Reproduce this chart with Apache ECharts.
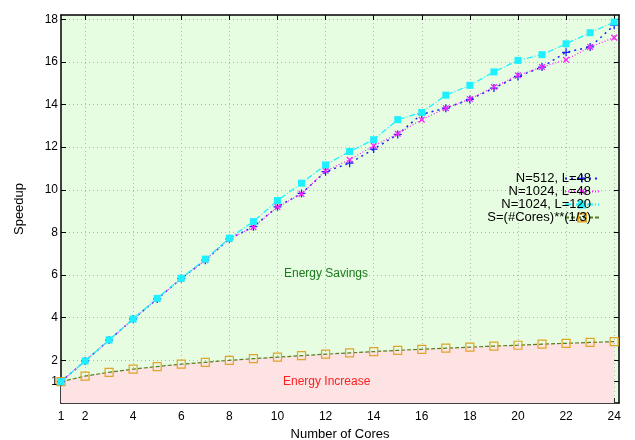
<!DOCTYPE html>
<html>
<head>
<meta charset="utf-8">
<script src="https://cdn.jsdelivr.net/npm/echarts@6/dist/echarts.min.js"></script>
<style>
  html, body { margin: 0; padding: 0; background: #fff; }
  #main { width: 635px; height: 440px; }
</style>
</head>
<body>
<div id="main"></div>
<script>
// number of cores (x)
var cores = [1, 2, 3, 4, 5, 6, 7, 8, 9, 10, 11, 12, 13, 14, 15, 16, 17, 18, 19, 20, 21, 22, 23, 24];

// speedup
var n512L48 = [1, 1.97, 2.95, 3.94, 4.88, 5.84, 6.7, 7.7, 8.27, 9.2, 9.83, 10.85, 11.25, 11.91, 12.6, 13.55, 13.83, 14.24, 14.77, 15.32, 15.76, 16.45, 16.7, 17.72];
var n1024L48 = [1, 1.97, 2.95, 3.93, 4.88, 5.83, 6.7, 7.7, 8.25, 9.19, 9.81, 10.89, 11.41, 12.07, 12.63, 13.29, 13.83, 14.26, 14.82, 15.37, 15.76, 16.1, 16.7, 17.14];
var n1024L120 = [1, 1.97, 2.96, 3.94, 4.91, 5.85, 6.75, 7.73, 8.51, 9.5, 10.31, 11.17, 11.8, 12.35, 13.29, 13.63, 14.44, 14.9, 15.53, 16.07, 16.34, 16.85, 17.37, 17.87];
var cubeRoot = [1, 1.26, 1.44, 1.59, 1.71, 1.82, 1.91, 2, 2.08, 2.15, 2.22, 2.29, 2.35, 2.41, 2.47, 2.52, 2.57, 2.62, 2.67, 2.71, 2.76, 2.8, 2.84, 2.88];

var seriesNames = ['N=512, L=48', 'N=1024, L=48', 'N=1024, L=120', 'S=(#Cores)**(1/3)'];

// tick labels
var xTicks = [2, 4, 6, 8, 10, 12, 14, 16, 18, 20, 22, 24];
var xLabels = [1, 2, 4, 6, 8, 10, 12, 14, 16, 18, 20, 22, 24];
var yTicks = [1, 2, 4, 6, 8, 10, 12, 14, 16, 18];

function pairs(vals) {
  return cores.map(function (c, i) { return [c, vals[i]]; });
}

var FONT = '"Liberation Sans", Arial, sans-serif';
var plusPath = 'path://M4.2,0h1.6v10h-1.6z M0,4.2h10v1.6h-10z';

var chart = echarts.init(document.getElementById('main'));

var gridLine = { show: true, lineStyle: { color: '#b4b4b4', width: 1, type: [1, 3] } };

var option = {
  animation: false,
  backgroundColor: '#ffffff',
  textStyle: { fontFamily: FONT },
  grid: {
    left: 61, right: 16, top: 15, bottom: 37,
    outerBoundsMode: 'none', containLabel: false,
    show: true, backgroundColor: '#e6fde1', borderWidth: 0
  },
  legend: {
    orient: 'vertical',
    align: 'right',
    right: 30,
    top: 167,
    itemGap: 0,
    itemWidth: 34,
    itemHeight: 10,
    textStyle: { fontSize: 13, lineHeight: 12, color: '#000', fontFamily: FONT, padding: [0, -31, 0, 0] },
    data: seriesNames
  },
  xAxis: [{
    type: 'value', min: 1, max: 24.2,
    name: 'Number of Cores', nameLocation: 'middle', nameGap: 22,
    nameTextStyle: { fontSize: 13, color: '#000' },
    axisLine: { show: true, onZero: false, lineStyle: { color: '#000', width: 1.5 } },
    axisTick: { show: true, inside: true, length: 5, customValues: xTicks, lineStyle: { color: '#000', width: 1 } },
    axisLabel: { customValues: xLabels, fontSize: 12, color: '#000', margin: 8 },
    splitLine: gridLine
  }, {
    type: 'value', min: 1, max: 24.2, position: 'top',
    axisLine: { show: true, onZero: false, lineStyle: { color: '#000', width: 1.5 } },
    axisTick: { show: true, inside: true, length: 5, customValues: xTicks, lineStyle: { color: '#000', width: 1 } },
    axisLabel: { show: false },
    splitLine: { show: false }
  }],
  yAxis: [{
    type: 'value', min: 0, max: 18.2,
    name: 'Speedup', nameLocation: 'middle', nameGap: 35, nameRotate: 90,
    nameTextStyle: { fontSize: 13, color: '#000' },
    axisLine: { show: true, onZero: false, lineStyle: { color: '#000', width: 1.5 } },
    axisTick: { show: true, inside: true, length: 5, customValues: yTicks, lineStyle: { color: '#000', width: 1 } },
    axisLabel: { customValues: yTicks, fontSize: 12, color: '#000', margin: 3 },
    splitLine: gridLine
  }, {
    type: 'value', min: 0, max: 18.2, position: 'right',
    axisLine: { show: true, onZero: false, lineStyle: { color: '#000', width: 1.5 } },
    axisTick: { show: true, inside: true, length: 5, customValues: yTicks, lineStyle: { color: '#000', width: 1 } },
    axisLabel: { show: false },
    splitLine: { show: false }
  }],
  graphic: [{
    type: 'text', left: 284, top: 268, z: 50,
    style: { text: 'Energy Savings', fill: '#1c7a1c', font: '12px ' + FONT }
  }, {
    type: 'text', left: 283, top: 376, z: 50,
    style: { text: 'Energy Increase', fill: '#ff2020', font: '12px ' + FONT }
  }],
  series: [{
    name: seriesNames[3],
    type: 'line',
    data: pairs(cubeRoot),
    z: 2,
    symbol: 'rect', symbolSize: 8,
    itemStyle: { color: 'rgba(0,0,0,0)', borderColor: '#e0a428', borderWidth: 1.2 },
    lineStyle: { color: '#5b7d24', width: 1.2, type: [4, 2] },
    areaStyle: { color: '#fde3e3', opacity: 1, origin: 'start' }
  }, {
    name: seriesNames[0],
    type: 'line',
    data: pairs(n512L48),
    z: 3,
    symbol: plusPath, symbolSize: 8,
    itemStyle: { color: '#1f1fff' },
    lineStyle: { color: '#1f1fff', width: 1.5, type: [2, 4] }
  }, {
    name: seriesNames[1],
    type: 'line',
    data: pairs(n1024L48),
    z: 4,
    symbol: plusPath, symbolSize: 8, symbolRotate: 45,
    itemStyle: { color: '#ff1fff' },
    lineStyle: { color: '#ff1fff', width: 1.2, type: [1, 2] }
  }, {
    name: seriesNames[2],
    type: 'line',
    data: pairs(n1024L120),
    z: 5,
    symbol: 'rect', symbolSize: 7,
    itemStyle: { color: '#1ff0ff' },
    lineStyle: { color: '#1ff0ff', width: 1.3, type: [6, 2, 1, 2] }
  }]
};

chart.setOption(option);
</script>
</body>
</html>
